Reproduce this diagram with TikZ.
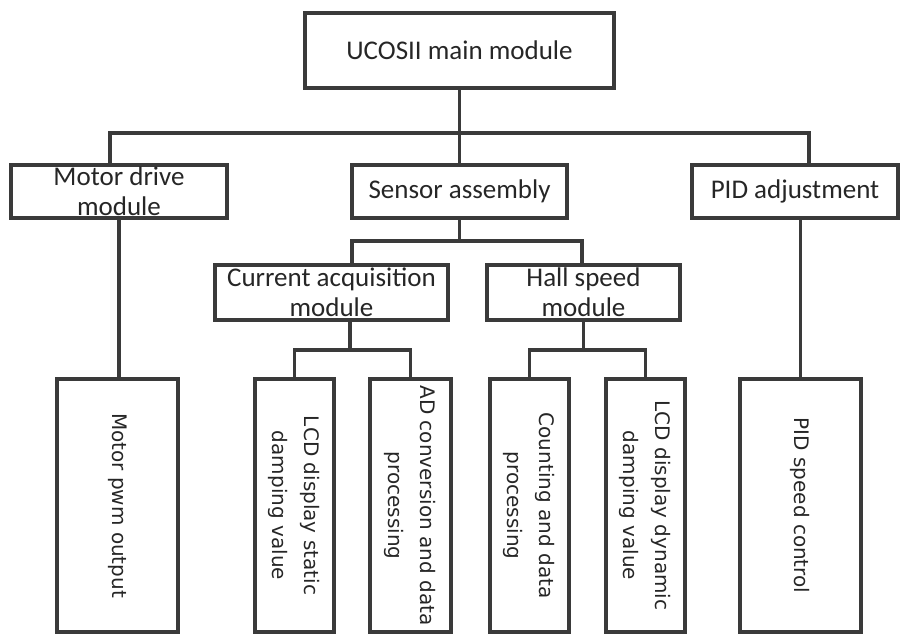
\documentclass[tikz,border=0pt]{standalone}
\usepackage{fontspec}
\setmainfont{Carlito}
\newfontfamily\vertfont{DejaVu Sans}

\definecolor{ink}{HTML}{3A3A3A}

\tikzset{
  box/.style={draw=ink, line width=3.5pt, inner sep=0pt, align=center,
    text=black!85, font=\fontsize{27}{30}\selectfont},
  vbox/.style={box, rotate=-90, minimum width=253pt,
    font=\vertfont\fontsize{20}{32}\selectfont},
  wire/.style={draw=ink, line width=3.5pt},
}

\begin{document}
\begin{tikzpicture}[x=1pt, y=-1pt]
        \useasboundingbox (0,0) rectangle (900,633);

        % Modulo principale
        \node[box, minimum width=309pt, minimum height=75pt] (main) at (459.5,50.5) {UCOSII main module};

        % Secondo livello
        \node[box, minimum width=216pt, minimum height=53pt] (drive) at (119,191.5) {Motor drive\\module};
        \node[box, minimum width=215pt, minimum height=53pt] (sensor) at (459.5,191.5) {Sensor assembly};
        \node[box, minimum width=206pt, minimum height=53pt] (pidadj) at (795,191.5) {PID adjustment};

        % Terzo livello
        \node[box, minimum width=233pt, minimum height=55pt] (current) at (331.5,292.5) {Current acquisition\\module};
        \node[box, minimum width=193pt, minimum height=55pt] (hall) at (583.5,292.5) {Hall speed\\module};

        % Foglie (ruotate: west = lato alto)
        \node[vbox, minimum height=121pt] (pwm) at (117.5,505.5) {Motor pwm output};
        \node[vbox, minimum height=79pt] (lcds) at (294.5,505.5) {LCD display static\\damping value};
        \node[vbox, minimum height=81pt] (adconv) at (410.5,505.5) {AD conversion and data\\processing};
        \node[vbox, minimum height=79pt] (count) at (529.5,505.5) {Counting and data\\processing};
        \node[vbox, minimum height=79pt] (lcdd) at (645.5,505.5) {LCD display dynamic\\damping value};
        \node[vbox, minimum height=121pt] (pidspeed) at (800.5,505.5) {PID speed control};

        % Collegamenti dal modulo principale
        \draw[wire] (main.south) -- ++(0,43) coordinate (bus1);
        \draw[wire] ([xshift=-9pt]drive.north) |- (bus1) -| ([xshift=14pt]pidadj.north);
        \draw[wire] (bus1) -- (sensor.north);

        % Sensori
        \draw[wire] (sensor.south) -- ++(0,21) coordinate (bus2);
        \draw[wire] ([xshift=20.5pt]current.north) |- (bus2) -| ([xshift=-1.5pt]hall.north);

        % Acquisizione corrente e velocita
        \draw[wire] ([xshift=18.5pt]current.south) -- ++(0,28) coordinate (bus3);
        \draw[wire] (lcds.west) |- (bus3) -| (adconv.west);
        \draw[wire] (hall.south) -- ++(0,28) coordinate (bus4);
        \draw[wire] (count.west) |- (bus4) -| (lcdd.west);

        % Motore e PID
        \draw[wire] (drive.south) -- (drive.south |- pwm.west);
        \draw[wire] (pidspeed.west |- pidadj.south) -- (pidspeed.west);

    \end{tikzpicture}
\end{document}
